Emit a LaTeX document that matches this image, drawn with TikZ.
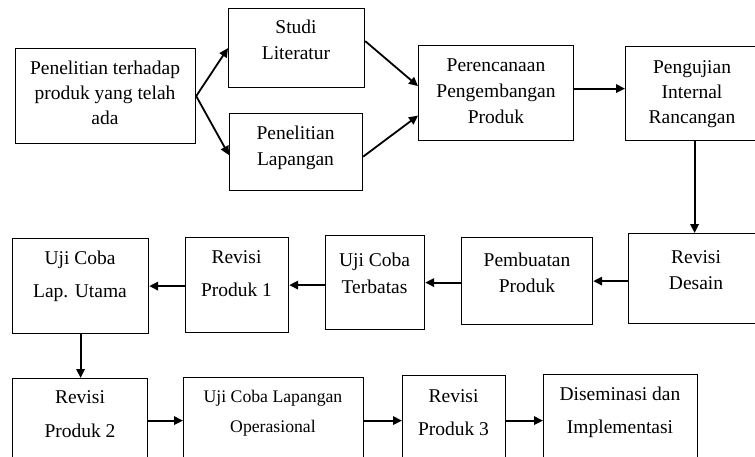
\documentclass[tikz,border=0pt]{standalone}
\usepackage{fontspec}
\setmainfont{Liberation Serif}
\usetikzlibrary{arrows.meta}
\begin{document}
\begin{tikzpicture}[x=1pt,y=-1pt,
  blk/.style={draw, line width=1.2pt, anchor=north west, inner sep=0pt},
  txt/.style={anchor=base, inner sep=0pt, font=\fontsize{19.5}{24}\selectfont},
  txts/.style={anchor=base, inner sep=0pt, font=\fontsize{17.7}{22}\selectfont},
  arr/.style={line width=1.8pt, -{Triangle[length=9pt,width=8.5pt]}}]
\useasboundingbox (0,0) rectangle (755,456);
\clip (0,0) rectangle (755,456);
% boxes
\node[blk, minimum width=180pt, minimum height=95pt] (b1) at (15,48) {};
\node[blk, minimum width=136pt, minimum height=79pt] (studi) at (228,8) {};
\node[blk, minimum width=133pt, minimum height=77pt] (lap) at (229,113) {};
\node[blk, minimum width=155pt, minimum height=95pt] (per) at (418,45) {};
\node[blk, minimum width=134pt, minimum height=94pt] (peng) at (625,46) {};
\node[blk, minimum width=136pt, minimum height=90pt] (rd) at (628,233) {};
\node[blk, minimum width=131pt, minimum height=87pt] (pemb) at (461,237) {};
\node[blk, minimum width=99pt, minimum height=94pt] (terb) at (325,235) {};
\node[blk, minimum width=103pt, minimum height=95pt] (rev1) at (185,237) {};
\node[blk, minimum width=136pt, minimum height=95pt] (utama) at (12,238) {};
\node[blk, minimum width=135pt, minimum height=84pt] (rev2) at (12,378) {};
\node[blk, minimum width=180pt, minimum height=86pt] (ops) at (183,377) {};
\node[blk, minimum width=103pt, minimum height=90pt] (rev3) at (402,375) {};
\node[blk, minimum width=154pt, minimum height=92pt] (dis) at (543,374) {};
% texts
\node[txt] (b1a) at (105,74) {Penelitian terhadap};
\node[txt] (b1b) at (105,99) {produk yang telah};
\node[txt] (b1c) at (105,124) {ada};
\node[txt] (studia) at (296,33) {Studi};
\node[txt] (studib) at (296,59) {Literatur};
\node[txt] (lapa) at (295.5,139) {Penelitian};
\node[txt] (lapb) at (295.5,165) {Lapangan};
\node[txt] (pera) at (496,71) {Perencanaan};
\node[txt] (perb) at (496,97) {Pengembangan};
\node[txt] (perc) at (496,123) {Produk};
\node[txt] (penga) at (692,73) {Pengujian};
\node[txt] (pengb) at (692,98) {Internal};
\node[txt] (pengc) at (692,123) {Rancangan};
\node[txt] (rda) at (696,263) {Revisi};
\node[txt] (rdb) at (696,289) {Desain};
\node[txt] (pemba) at (527,266) {Pembuatan};
\node[txt] (pembb) at (527,292) {Produk};
\node[txt] (terba) at (374.5,266) {Uji Coba};
\node[txt] (terbb) at (374.5,293) {Terbatas};
\node[txt] (rev1a) at (236.5,263) {Revisi};
\node[txt] (rev1b) at (236.5,296) {Produk 1};
\node[txt] (utamaa) at (80,264) {Uji Coba};
\node[txt] (utamab) at (80,297) {Lap. Utama};
\node[txt] (rev2a) at (80,403) {Revisi};
\node[txt] (rev2b) at (80,437) {Produk 2};
\node[txts] (opsa) at (273,402) {Uji Coba Lapangan};
\node[txts] (opsb) at (273,432) {Operasional};
\node[txt] (rev3a) at (453.5,402) {Revisi};
\node[txt] (rev3b) at (453.5,435) {Produk 3};
\node[txt] (disa) at (620,400) {Diseminasi dan};
\node[txt] (disb) at (620,433) {Implementasi};
% connectors
\draw[arr] (b1.east) -- (studi.west);
\draw[arr] (b1.east) -- ([yshift=-3pt]lap.west);
\draw[arr] ([yshift=7pt]studi.east) -- ([yshift=7pt]per.west);
\draw[arr] ([yshift=-4.5pt]lap.east) -- ([yshift=-22.5pt]per.west);
\draw[arr] ([yshift=4.5pt]per.east) -- ([yshift=4.5pt]per.east -| peng.west);
\draw[arr] ([xshift=2pt]peng.south) -- ([xshift=2pt]peng.south |- rd.north);
\draw[arr] (pemb.east -| rd.west) -- (pemb.east);
\draw[arr] (pemb.west |- terb.east) -- (terb.east);
\draw[arr] (terb.west |- rev1.east) -- (rev1.east);
\draw[arr] (rev1.west |- utama.east) -- (utama.east);
\draw[arr] (utama.south) -- (utama.south |- rev2.north);
\draw[arr] (rev2.east) -- (rev2.east -| ops.west);
\draw[arr] (ops.east |- rev3.west) -- (rev3.west);
\draw[arr] (rev3.east |- dis.west) -- (dis.west);
\end{tikzpicture}
\end{document}
